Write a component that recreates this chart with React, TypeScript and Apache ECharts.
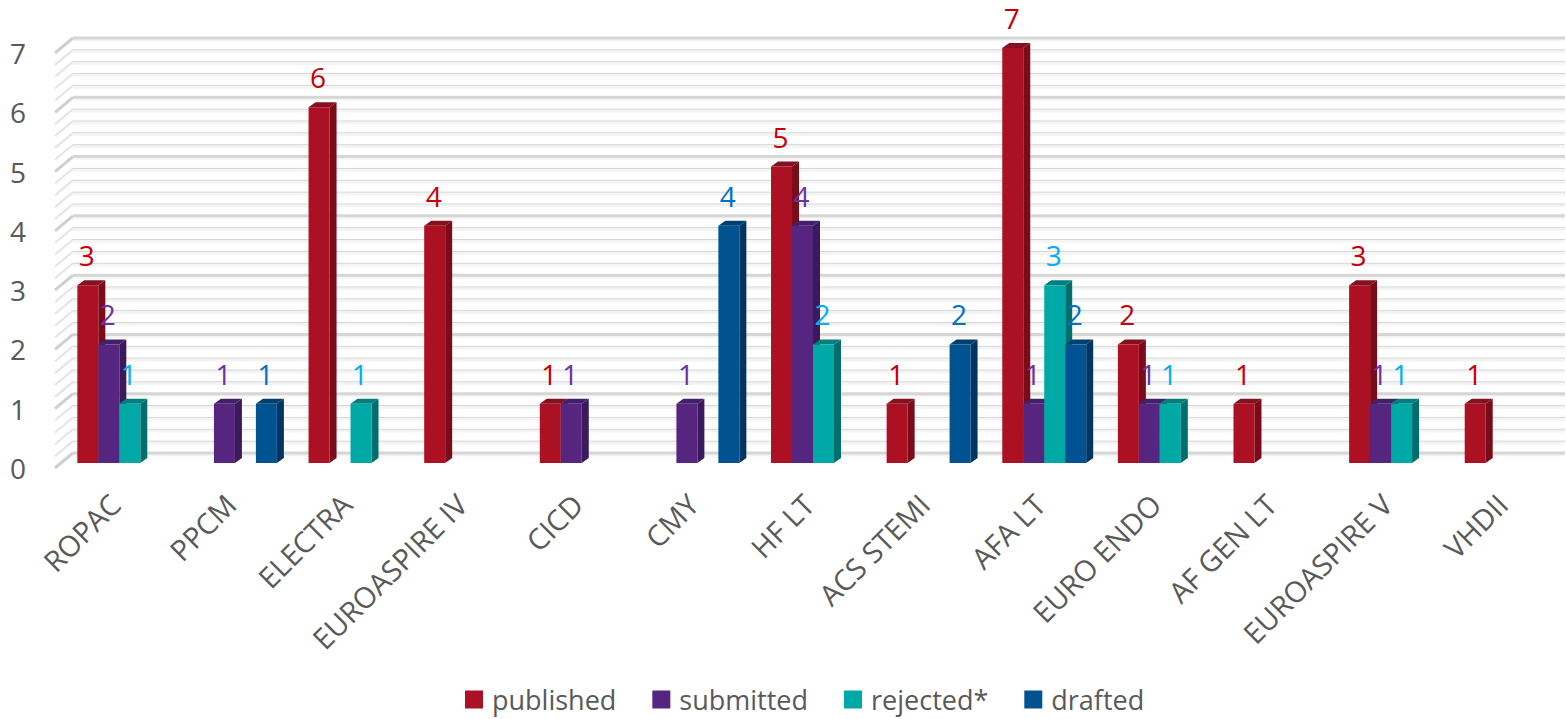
import React, { useEffect, useRef } from "react";
import * as echarts from "echarts";

const categories = ["ROPAC","PPCM","ELECTRA","EUROASPIRE IV","CICD","CMY","HF LT","ACS STEMI","AFA LT","EURO ENDO","AF GEN LT","EUROASPIRE V","VHDII"];
const published = [3,0,6,4,1,0,5,1,7,2,1,3,1];
const submitted = [2,1,0,0,1,1,4,0,1,1,0,1,0];
const rejected = [1,0,1,0,0,0,2,0,3,1,0,1,0];
const drafted = [0,1,0,0,0,4,0,2,2,0,0,0,0];
const seriesNames = ["published","submitted","rejected*","drafted"];
const seriesValues = [published,submitted,rejected,drafted];
const frontColors = ["#AC1023","#55257F","#00A9A5","#005390"];
const topColors = ["#85101F","#43206A","#007F7C","#003F70"];
const sideColors = ["#7A0B19","#3A1A5A","#006E6C","#003560"];
const labelColors = ["#C50008","#7030A0","#00B0F0","#0070C0"];
const yTicks = [0,1,2,3,4,5,6,7];
const wallTicks = [0,0.2,0.4,0.6,0.8,1,1.2,1.4,1.6,1.8,2,2.2,2.4,2.6,2.8,3,3.2,3.4,3.6,3.8,4,4.2,4.4,4.6,4.8,5,5.2,5.4,5.6,5.8,6,6.2,6.4,6.6,6.8,7];

const FONT = "'Open Sans'";
const DX = 7, DY = 5;

function barRenderer(i: number) {
  return (params: any, api: any) => {
    const cat = api.value(0), val = api.value(1);
    const [cx, top] = api.coord([cat, val]);
    const [, base] = api.coord([cat, 0]);
    const band = api.size([1, 0])[0];
    const w = band * 0.1815;
    const x0 = cx + (i - 2) * w - 0.5, x1 = x0 + w;
    return {
      type: "group",
      children: [
        { type: "polygon", shape: { points: [[x1, top],[x1 + DX, top - DY],[x1 + DX, base - DY],[x1, base]] }, style: { fill: sideColors[i] } },
        { type: "polygon", shape: { points: [[x0, top],[x0 + DX, top - DY],[x1 + DX, top - DY],[x1, top]] }, style: { fill: topColors[i] } },
        { type: "rect", shape: { x: x0, y: top, width: w, height: base - top }, style: { fill: frontColors[i] } },
        { type: "text", z2: 100, style: { x: x0 + w / 2 - 1, y: top - 30, text: String(val), fill: labelColors[i], font: `28px ${FONT}`, align: "center", verticalAlign: "middle" } },
      ],
    };
  };
}

function wallRenderer(params: any, api: any) {
  const v = api.value(1);
  const [, y] = api.coord([0, v]);
  const major = Number.isInteger(v);
  const right = params.coordSys.x + params.coordSys.width;
  return {
    type: "group",
    silent: true,
    children: [
      { type: "line", shape: { x1: 55, y1: y + 5, x2: 73, y2: y - 10 }, style: { stroke: major ? "#CFCFCF" : "#E4E4E4", lineWidth: major ? 3 : 2 } },
      { type: "line", shape: { x1: 73, y1: y - 8, x2: right, y2: y - 8 }, style: { stroke: "#F4F4F4", lineWidth: 2.5 } },
      { type: "line", shape: { x1: 73, y1: y - 10, x2: right, y2: y - 10 }, style: { stroke: major ? "#D6D6D6" : "#D4D4D4", lineWidth: major ? 3 : 1 } },
    ],
  };
}

export default function App() {
  const ref = useRef<HTMLDivElement>(null);
  useEffect(() => {
    document.body.style.margin = "0";
    document.body.style.overflow = "hidden";
    const chart = echarts.init(ref.current!, null, { renderer: "svg" });
    chart.setOption({
      animation: false,
      backgroundColor: "#FFFFFF",
      color: frontColors,
      grid: [
        { left: 62, right: 1, top: 48, bottom: 256 },
        { left: 57, right: 6, top: 53, bottom: 251 },
      ],
      legend: {
        left: 460, top: 681, itemWidth: 18, itemHeight: 18, itemGap: 36, icon: "rect",
        data: seriesNames,
        textStyle: { fontFamily: FONT, fontSize: 27, lineHeight: 24, color: "#595959", padding: [0, 0, 0, 4] },
      },
      xAxis: [
        {
          type: "category", data: categories, gridIndex: 0,
          axisLine: { show: false }, axisTick: { show: false }, splitLine: { show: false }, axisLabel: { show: false },
        },
        {
          type: "category", data: categories, gridIndex: 1,
          axisLine: { show: false }, axisTick: { show: false }, splitLine: { show: false },
          axisLabel: { interval: 0, rotate: 45, margin: 31, fontFamily: FONT, fontSize: 29, color: "#595959" },
        },
      ],
      yAxis: [
        {
          type: "value", gridIndex: 0, min: yTicks[0], max: yTicks[yTicks.length - 1], interval: 1,
          axisLine: { show: false }, axisTick: { show: false }, splitLine: { show: false }, axisLabel: { show: false },
        },
        {
          type: "value", gridIndex: 1, min: yTicks[0], max: yTicks[yTicks.length - 1], interval: 1,
          axisLine: { show: false }, axisTick: { show: false }, splitLine: { show: false },
          axisLabel: { margin: 31, fontFamily: FONT, fontSize: 28, color: "#595959" },
        },
      ],
      series: [
        { type: "custom", silent: true, z: 1, renderItem: wallRenderer, data: wallTicks.map((t) => [0, t]), encode: { x: 0, y: 1 } },
        ...seriesNames.map((name, i) => ({
          type: "custom", name, z: 2, silent: true,
          itemStyle: { color: frontColors[i] },
          renderItem: barRenderer(i),
          encode: { x: 0, y: 1 },
          data: seriesValues[i].map((v, c) => [c, v]).filter((d) => d[1] > 0),
        })),
      ],
    });
    return () => chart.dispose();
  }, []);
  return <div ref={ref} style={{ width: 1566, height: 719 }} />;
}
